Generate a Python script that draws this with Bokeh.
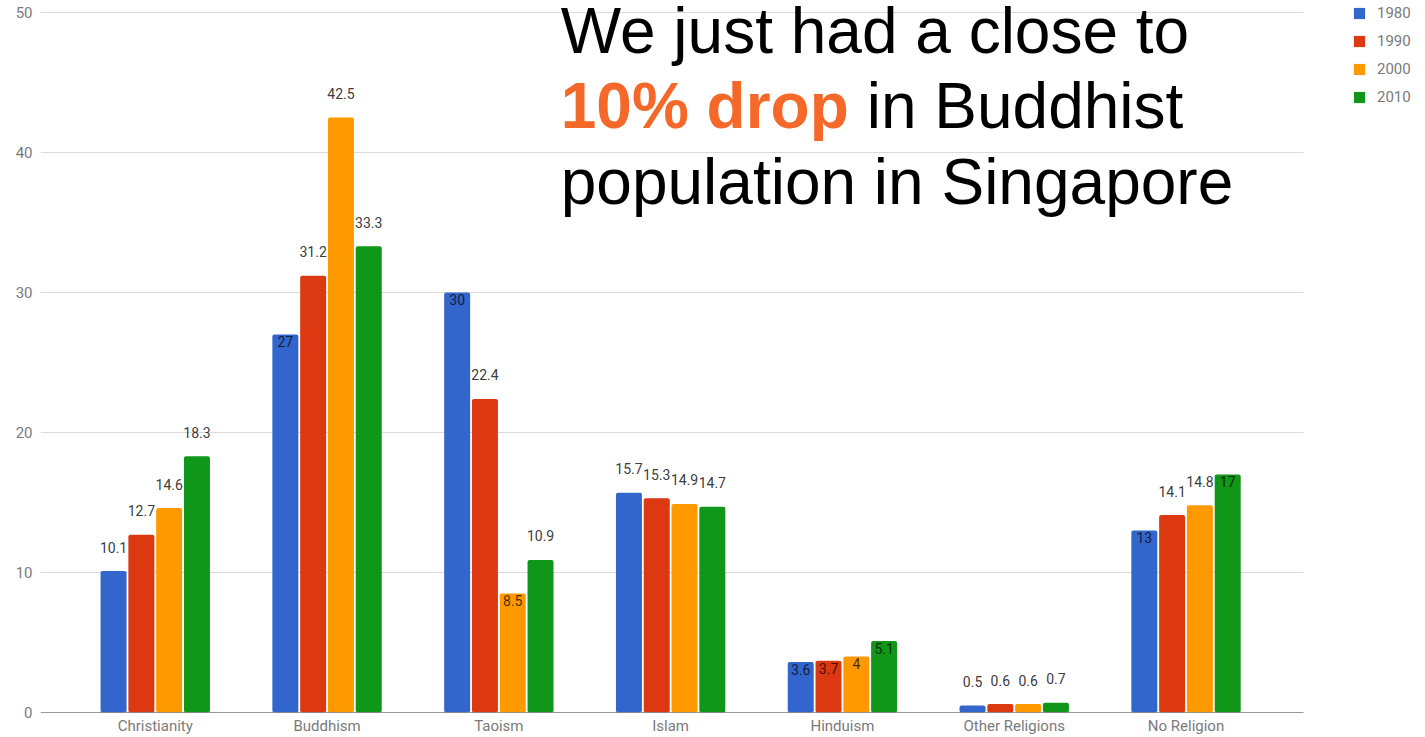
from bokeh.plotting import figure
from bokeh.models import Range1d, FixedTicker, Legend, LegendItem, Label, ColumnDataSource
from bokeh.core.properties import value
from bokeh.embed import file_html
from bokeh.resources import INLINE

categories = ["Christianity", "Buddhism", "Taoism", "Islam", "Hinduism", "Other Religions", "No Religion"]
years = ["1980", "1990", "2000", "2010"]
v1980 = [10.1, 27, 30, 15.7, 3.6, 0.5, 13]
v1990 = [12.7, 31.2, 22.4, 15.3, 3.7, 0.6, 14.1]
v2000 = [14.6, 42.5, 8.5, 14.9, 4, 0.6, 14.8]
v2010 = [18.3, 33.3, 10.9, 14.7, 5.1, 0.7, 17]
series = [v1980, v1990, v2000, v2010]
colors = ["#3366cc", "#dc3912", "#ff9900", "#109618"]
y_ticks = [0, 10, 20, 30, 40, 50]

# label placement (inside the bar top or above it), as in the reference
inside = [
    [False, True, True, False, True, False, True],
    [False, False, False, False, True, False, False],
    [False, False, True, False, True, False, False],
    [False, False, False, False, True, False, True],
]

STEP = 0.1618
BAR_W = 0.1513
X_LO, X_HI = -0.668, 6.684      # extent of the chart area (grid / axis line)
X_END = 7.394                    # frame extends to the right edge (legend room)

p = figure(width=1425, height=737,
           x_range=Range1d(X_LO, X_END), y_range=Range1d(0, 50.857),
           output_backend="svg", toolbar_location=None,
           min_border_left=40, min_border_right=0, min_border_top=0, min_border_bottom=25)
p.outline_line_color = None
p.background_fill_color = "white"
p.border_fill_color = "white"

p.xgrid.visible = False
p.ygrid.visible = False

# horizontal grid lines limited to the chart area
p.segment(x0=[X_LO] * len(y_ticks), x1=[X_HI] * len(y_ticks), y0=y_ticks, y1=y_ticks,
          line_color="#dadada", line_width=1)

p.yaxis.ticker = FixedTicker(ticks=y_ticks)
p.yaxis.axis_line_color = None
p.yaxis.major_tick_line_color = None
p.yaxis.minor_tick_line_color = None
p.yaxis.major_tick_out = 0
p.yaxis.minor_tick_out = 0
p.yaxis.major_label_standoff = 8
p.yaxis.major_label_text_font = "Roboto"
p.yaxis.major_label_text_font_size = "15px"
p.yaxis.major_label_text_color = "#7a7a7a"

p.xaxis.ticker = FixedTicker(ticks=list(range(len(categories))))
p.xaxis.major_label_overrides = {i: c for i, c in enumerate(categories)}
p.xaxis.axis_line_color = None
p.xaxis.major_tick_line_color = None
p.xaxis.minor_tick_line_color = None
p.xaxis.major_tick_out = 0
p.xaxis.minor_tick_out = 0
p.xaxis.major_label_standoff = 4
p.xaxis.major_label_text_font = "Roboto"
p.xaxis.major_label_text_font_size = "15px"
p.xaxis.major_label_text_color = "#7a7a7a"

items = []
for j, (vals, col, yr) in enumerate(zip(series, colors, years)):
    xs = [i + (j - 1.5) * STEP for i in range(len(categories))]
    src = ColumnDataSource(dict(x=xs, top=vals))
    r = p.vbar(x="x", top="top", width=BAR_W, bottom=0, source=src,
               fill_color=col, line_color=None, border_radius=2)
    items.append(LegendItem(label=yr, renderers=[r]))

    out_x = [x for x, f in zip(xs, inside[j]) if not f]
    out_y = [v for v, f in zip(vals, inside[j]) if not f]
    in_x = [x for x, f in zip(xs, inside[j]) if f]
    in_y = [v for v, f in zip(vals, inside[j]) if f]
    p.text(x=out_x, y=out_y, text=[f"{v:g}" for v in out_y],
           text_align="center", text_baseline="alphabetic", y_offset=-24,
           text_font=value("Roboto"), text_font_size="14px",
           text_color="#222222", text_alpha=0.9)
    p.text(x=in_x, y=in_y, text=[f"{v:g}" for v in in_y],
           text_align="center", text_baseline="top", y_offset=2,
           text_font=value("Roboto"), text_font_size="14px",
           text_color="#000000", text_alpha=0.72)

# x axis line (limited to the chart area)
p.segment(x0=[X_LO], x1=[X_HI], y0=[0], y1=[0], line_color="#444444", line_width=1)

legend = Legend(items=items, location=(1312, 606), orientation="vertical",
                glyph_width=14, glyph_height=14, label_height=14, spacing=10,
                label_standoff=11, padding=0, margin=0,
                border_line_alpha=0, background_fill_alpha=0,
                label_text_font="Roboto", label_text_font_size="15px",
                label_text_color="#7a7a7a")
p.add_layout(legend)

title_x = 2.36
common = dict(text_font="Liberation Sans", text_font_size="64px",
              text_baseline="alphabetic", text_align="left")
p.add_layout(Label(x=title_x, y=48.71, text="We just had a close to", text_color="black", **common))
p.add_layout(Label(x=title_x, y=43.29, text="10% drop", text_color="#f4692a",
                   text_font_style="bold", **common))
p.add_layout(Label(x=title_x, y=43.29, x_offset=306, text="in Buddhist", text_color="black", **common))
p.add_layout(Label(x=title_x, y=37.86, text="population in Singapore", text_color="black", **common))

open("out.html", "w").write(file_html(p, INLINE))
